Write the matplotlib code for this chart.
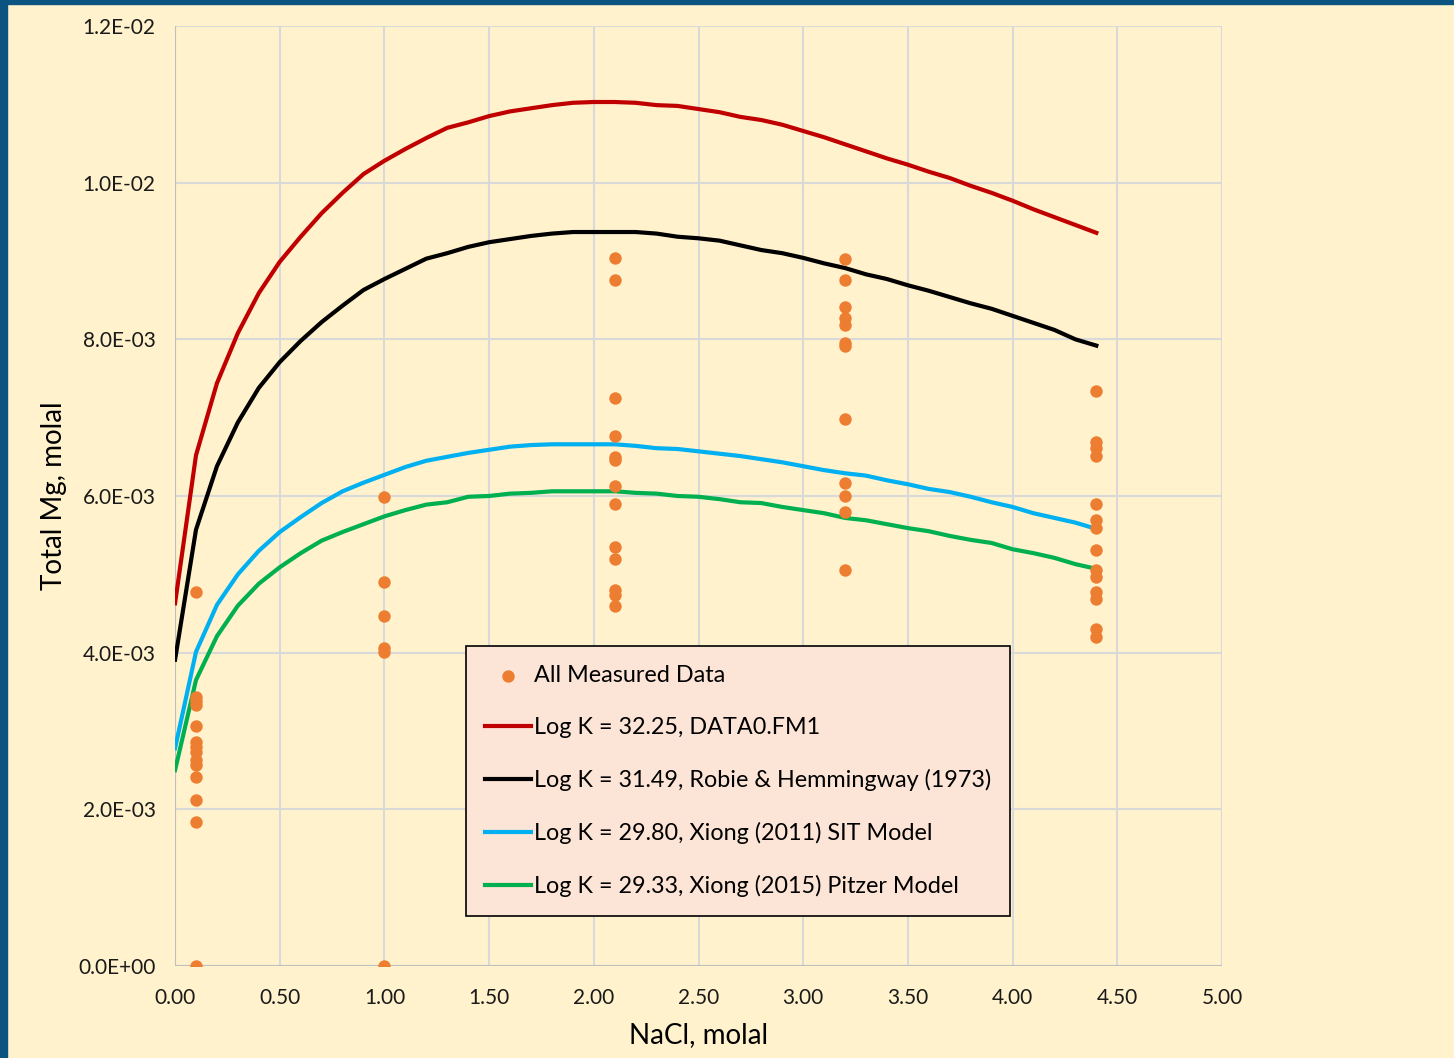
import numpy as np
import matplotlib
matplotlib.use("Agg")
from matplotlib import pyplot as plt
from matplotlib.patches import Rectangle

# measured data (NaCl molal, total Mg molal)
meas_x = ([0.1] * 14 + [1.0] * 6 + [2.1] * 13 + [3.2] * 12 + [4.4] * 14)
meas_y = [4.78e-3, 3.43e-3, 3.38e-3, 3.33e-3, 3.06e-3, 2.86e-3, 2.80e-3, 2.73e-3,
          2.63e-3, 2.57e-3, 2.41e-3, 2.12e-3, 1.84e-3, 0.0,
          5.99e-3, 4.90e-3, 4.47e-3, 4.06e-3, 4.01e-3, 0.0,
          9.04e-3, 8.76e-3, 7.25e-3, 6.76e-3, 6.50e-3, 6.46e-3, 6.13e-3, 5.90e-3,
          5.35e-3, 5.20e-3, 4.80e-3, 4.74e-3, 4.59e-3,
          9.03e-3, 8.76e-3, 8.41e-3, 8.27e-3, 8.18e-3, 7.95e-3, 7.92e-3, 6.98e-3,
          6.16e-3, 6.00e-3, 5.80e-3, 5.06e-3,
          7.34e-3, 6.69e-3, 6.61e-3, 6.51e-3, 5.90e-3, 5.69e-3, 5.59e-3, 5.31e-3,
          5.06e-3, 4.97e-3, 4.78e-3, 4.68e-3, 4.30e-3, 4.20e-3]

# model curves, NaCl from 0 to 4.4 in steps of 0.1 (Mg in 1e-3 molal)
nacl = np.round(np.arange(0, 4.45, 0.1), 2)
red = [4.63, 6.52, 7.44, 8.08, 8.59, 8.99, 9.31, 9.61, 9.87, 10.11, 10.28, 10.43,
       10.57, 10.70, 10.77, 10.85, 10.91, 10.95, 10.99, 11.02, 11.03, 11.03, 11.02,
       10.99, 10.98, 10.94, 10.90, 10.84, 10.80, 10.74, 10.66, 10.58, 10.49, 10.40,
       10.31, 10.23, 10.14, 10.06, 9.96, 9.87, 9.77, 9.66, 9.56, 9.46, 9.36]
black = [3.91, 5.57, 6.38, 6.94, 7.38, 7.71, 7.98, 8.22, 8.43, 8.63, 8.77, 8.90,
         9.03, 9.10, 9.18, 9.24, 9.28, 9.32, 9.35, 9.37, 9.37, 9.37, 9.37, 9.35,
         9.31, 9.29, 9.26, 9.20, 9.14, 9.10, 9.04, 8.97, 8.91, 8.83, 8.77, 8.69,
         8.62, 8.54, 8.46, 8.39, 8.30, 8.21, 8.12, 8.00, 7.92]
blue = [2.78, 4.01, 4.61, 5.00, 5.30, 5.54, 5.73, 5.91, 6.06, 6.17, 6.27, 6.37,
        6.45, 6.50, 6.55, 6.59, 6.63, 6.65, 6.66, 6.66, 6.66, 6.66, 6.64, 6.61,
        6.60, 6.57, 6.54, 6.51, 6.47, 6.43, 6.38, 6.33, 6.29, 6.26, 6.20, 6.15,
        6.09, 6.05, 5.99, 5.92, 5.86, 5.78, 5.72, 5.66, 5.58]
green = [2.50, 3.65, 4.21, 4.60, 4.88, 5.09, 5.27, 5.43, 5.54, 5.64, 5.74, 5.82,
         5.89, 5.92, 5.99, 6.00, 6.03, 6.04, 6.06, 6.06, 6.06, 6.06, 6.04, 6.03,
         6.00, 5.99, 5.96, 5.92, 5.91, 5.86, 5.82, 5.78, 5.72, 5.69, 5.64, 5.59,
         5.55, 5.49, 5.44, 5.40, 5.32, 5.27, 5.21, 5.13, 5.07]

labels = ["Log K = 32.25, DATA0.FM1",
          "Log K = 31.49, Robie & Hemmingway (1973)",
          "Log K = 29.80, Xiong (2011) SIT Model",
          "Log K = 29.33, Xiong (2015) Pitzer Model"]
colors = ["#C00000", "#000000", "#00B0F0", "#00B050"]
xtick_vals = np.arange(0, 5.01, 0.5)
ytick_vals = np.arange(0, 0.01201, 0.002)
ytick_labels = ["0.0E+00", "2.0E-03", "4.0E-03", "6.0E-03", "8.0E-03",
                "1.0E-02", "1.2E-02"]

plt.rcParams['font.family'] = ['Lato', 'DejaVu Sans']

bg = "#FFF2CC"
fig = plt.figure(figsize=(14.54, 10.58), dpi=100, facecolor=bg)
ax = fig.add_axes([0.1204, 0.0870, 0.7200, 0.8884], facecolor=bg)

# frame on left and top edges
fig.add_artist(Rectangle((0, 0), 7 / 1454, 1, transform=fig.transFigure,
                         color="#0B5380", zorder=10))
fig.add_artist(Rectangle((0, 1 - 4 / 1058), 1, 4 / 1058, transform=fig.transFigure,
                         color="#0B5380", zorder=10))

ax.scatter(meas_x, meas_y, s=80, color="#ED7D31", zorder=3, label="All Measured Data",
           linewidths=0)
for ys, c, lab in zip([red, black, blue, green], colors, labels):
    ax.plot(nacl, np.array(ys) * 1e-3, color=c, lw=3, label=lab, zorder=2)

ax.set_xlim(0, 5)
ax.set_ylim(0, 0.012)
ax.set_xticks(xtick_vals)
ax.set_xticklabels([f"{v:.2f}" for v in xtick_vals])
ax.set_yticks(ytick_vals)
ax.set_yticklabels(ytick_labels)
ax.tick_params(length=0, labelsize=15, colors="#1a1a1a")
ax.tick_params(axis='y', pad=14)
ax.tick_params(axis='x', pad=16)
ax.grid(True, color="#D9D9D9", lw=1.5)
ax.set_axisbelow(True)
for s in ax.spines.values():
    s.set_visible(False)
ax.axhline(0, color="#BFBFBF", lw=1.5, zorder=1)
ax.axvline(0, color="#BFBFBF", lw=1.5, zorder=1)

ax.set_xlabel("NaCl, molal", fontsize=20, labelpad=10)
ax.set_ylabel("Total Mg, molal", fontsize=20, labelpad=8)

leg = ax.legend(loc="upper left", bbox_to_anchor=(0.278, 0.340), fontsize=16.8,
                frameon=True, fancybox=False, facecolor="#FCE4D6", edgecolor="black",
                framealpha=1, handlelength=2.0, handletextpad=0.1, labelspacing=1.33,
                borderpad=0.8, borderaxespad=0, markerscale=1.0)
leg.get_frame().set_linewidth(1.2)

fig.savefig("out.png", dpi=100, facecolor=bg)
